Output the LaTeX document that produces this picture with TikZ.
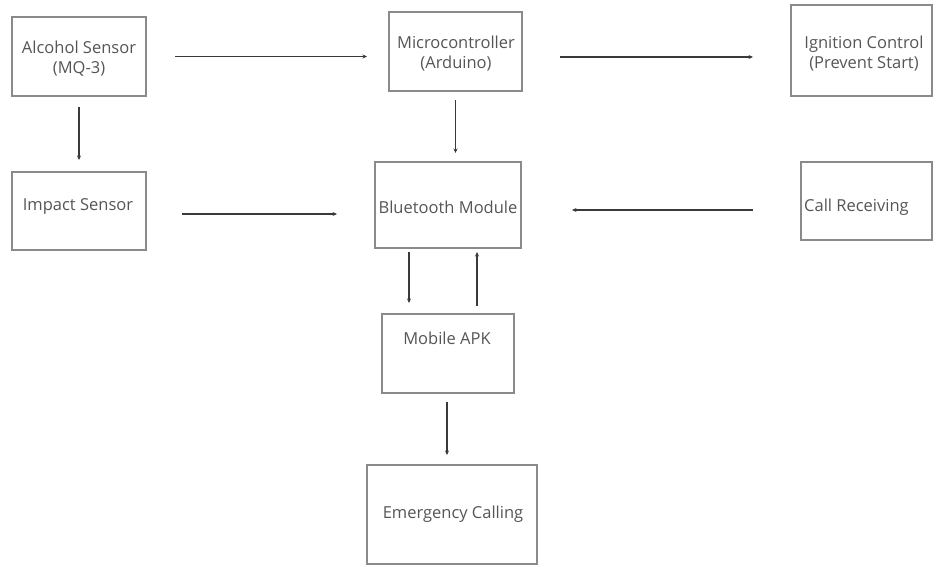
\documentclass[tikz,border=0pt]{standalone}
\usepackage{fontspec}
\setmainfont{Open Sans}
\usetikzlibrary{arrows.meta,calc}
\definecolor{boxc}{HTML}{8A8A8A}
\definecolor{txtc}{HTML}{555555}
\definecolor{arrc}{HTML}{3A3A3A}
\begin{document}
\begin{tikzpicture}[x=1pt,y=-1pt,
  blk/.style={draw=boxc,line width=1.1pt,inner sep=0pt,outer sep=0pt},
  txt/.style={text=txtc,font=\fontsize{16.5}{20}\selectfont,inner sep=0pt,align=center},
  arr/.style={draw=arrc,line width=1.2pt,-{Stealth[length=4.5pt,width=4pt]}}]
\path[use as bounding box] (0,0) rectangle (936,566);
% boxes
\node[blk,minimum width=134pt,minimum height=79pt] (alc) at (79,56.5) {};
\node[blk,minimum width=133pt,minimum height=79pt] (mcu) at (455.5,51.5) {};
\node[blk,minimum width=141pt,minimum height=91pt] (ign) at (861.5,50.5) {};
\node[blk,minimum width=134pt,minimum height=78pt] (imp) at (79,211) {};
\node[blk,minimum width=146pt,minimum height=86pt] (bt) at (448,205) {};
\node[blk,minimum width=131pt,minimum height=78pt] (call) at (866.5,201) {};
\node[blk,minimum width=132pt,minimum height=79pt] (mob) at (448,353.5) {};
\node[blk,minimum width=170pt,minimum height=99pt] (emg) at (452,514.5) {};
% texts
\node[txt] (alcT) at (79,59) {Alcohol Sensor\\(MQ-3)};
\node[txt] (mcuT) at (456,54) {Microcontroller\\(Arduino)};
\node[txt] (ignT) at (864,54) {Ignition Control\\(Prevent Start)};
\node[txt] (impT) at (78,206) {Impact Sensor};
\node[txt] (btT) at (448,207) {Bluetooth Module};
\node[txt,anchor=west] (callT) at (804,207) {Call Receiving};
\node[txt] (mobT) at (447,338) {Mobile APK};
\node[txt] (emgT) at (453,514) {Emergency Calling};
% connectors
\draw[arr,shorten <=29pt,shorten >=22pt] (alc.east) -- (alc.east -| mcu.west);
\draw[arr,shorten <=11pt,shorten >=12pt] (alc.south) -- (imp.north);
\draw[arr,shorten <=36pt,shorten >=38pt] ([yshift=-3pt]imp.east) -- ([yshift=-3pt]imp.east -| bt.west);
\draw[arr,shorten <=38pt,shorten >=38pt] ([yshift=-5.5pt]mcu.east) -- ([yshift=-5.5pt]mcu.east -| ign.west);
\draw[arr,shorten <=9pt,shorten >=9pt] (mcu.south) -- (mcu.south |- bt.north);
\draw[arr,shorten <=48pt,shorten >=51pt] ([yshift=-9pt]call.west) -- ([yshift=-9pt]call.west -| bt.east);
\draw[arr,shorten <=4pt,shorten >=11pt] ([xshift=-39pt]bt.south) -- ([xshift=-39pt]bt.south |- mob.north);
\draw[arr,shorten <=8pt,shorten >=4pt] ([xshift=29pt]mob.north) -- ([xshift=29pt]mob.north |- bt.south);
\draw[arr,shorten <=9pt,shorten >=10pt] ([xshift=-1pt]mob.south) -- ([xshift=-1pt]mob.south |- emg.north);
\end{tikzpicture}
\end{document}
